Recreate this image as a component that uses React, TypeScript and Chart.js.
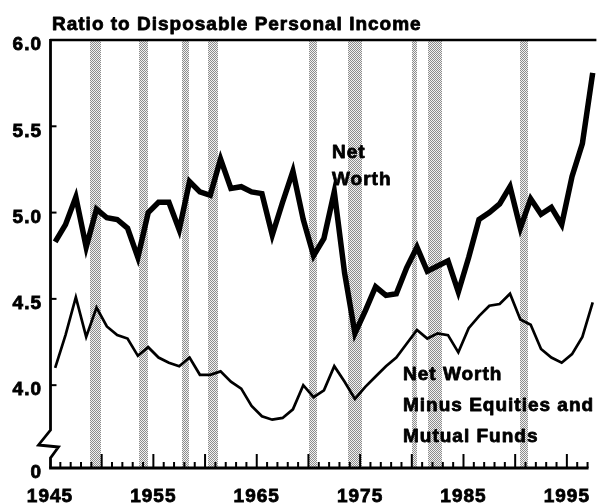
import React, { useEffect, useRef } from "react";
import { Chart, registerables } from "chart.js";

Chart.register(...registerables);

// ---------- data ----------
const years = [
  1945, 1946, 1947, 1948, 1949, 1950, 1951, 1952, 1953, 1954,
  1955, 1956, 1957, 1958, 1959, 1960, 1961, 1962, 1963, 1964,
  1965, 1966, 1967, 1968, 1969, 1970, 1971, 1972, 1973, 1974,
  1975, 1976, 1977, 1978, 1979, 1980, 1981, 1982, 1983, 1984,
  1985, 1986, 1987, 1988, 1989, 1990, 1991, 1992, 1993, 1994,
  1995, 1996, 1997,
];

const netWorth = [
  4.83, 4.93, 5.09, 4.8, 5.02, 4.97, 4.96, 4.91, 4.74, 5.0,
  5.06, 5.06, 4.9, 5.18, 5.12, 5.1, 5.31, 5.14, 5.15, 5.12,
  5.11, 4.87, 5.06, 5.24, 4.96, 4.75, 4.85, 5.12, 4.65, 4.3,
  4.43, 4.57, 4.52, 4.53, 4.68, 4.8, 4.66, 4.69, 4.72, 4.54,
  4.74, 4.96, 5.0, 5.05, 5.15, 4.91, 5.08, 4.99, 5.03, 4.93,
  5.21, 5.4, 5.81,
];

const netWorthMinusEquities = [
  4.1, 4.29, 4.51, 4.28, 4.45, 4.34, 4.29, 4.27, 4.17, 4.22,
  4.16, 4.13, 4.11, 4.16, 4.06, 4.06, 4.08, 4.02, 3.98, 3.88,
  3.82, 3.8, 3.81, 3.86, 4.0, 3.93, 3.97, 4.11, 4.02, 3.92,
  3.99, 4.05, 4.11, 4.16, 4.24, 4.32, 4.27, 4.3, 4.29, 4.19,
  4.33, 4.4, 4.46, 4.47, 4.53, 4.38, 4.35, 4.21, 4.16, 4.13,
  4.18, 4.28, 4.48,
];

const recessionStarts = [1948.9, 1953.65, 1957.75, 1960.3, 1970.05, 1973.85, 1980.05, 1981.55, 1990.5];
const recessionEnds = [1949.95, 1954.45, 1958.4, 1961.3, 1970.8, 1975.2, 1980.5, 1982.9, 1991.2];

const xTickLabels = [1945, 1955, 1965, 1975, 1985, 1995];
const yTickValues = [4.0, 4.5, 5.0, 5.5, 6.0];
const yBreakValue = 3.52; // broken-axis baseline, labelled "0"
const yTop = 6.0;
const xStart = 1945;
const xEnd = 1997.857;
const lastTickYear = 1997;

const titleText = "Ratio to Disposable Personal Income";
const netWorthLabel = ["Net", "Worth"];
const minusLabel = ["Net Worth", "Minus Equities and", "Mutual Funds"];

// ---------- styling ----------
const FONT = '"Liberation Sans", Arial, Helvetica, sans-serif';

function makeStipple(ctx: CanvasRenderingContext2D) {
  const c = document.createElement("canvas");
  c.width = 2;
  c.height = 2;
  const g = c.getContext("2d")!;
  g.fillStyle = "#f2f2f2";
  g.fillRect(0, 0, 2, 2);
  g.fillStyle = "#8c8c8c";
  g.fillRect(0, 0, 1, 1);
  g.fillRect(1, 1, 1, 1);
  return ctx.createPattern(c, "repeat");
}

const decorPlugin = {
  id: "decor",
  beforeDraw(chart: any) {
    (chart.ctx as any).letterSpacing = "1px";
  },
  beforeDatasetsDraw(chart: any) {
    const { ctx, chartArea: a, scales } = chart;
    const x = scales.x;
    ctx.save();
    const pat = makeStipple(ctx);
    ctx.fillStyle = pat || "#b8b8b8";
    recessionStarts.forEach((s, i) => {
      const x0 = Math.round(x.getPixelForValue(s));
      const x1 = Math.round(x.getPixelForValue(recessionEnds[i]));
      ctx.fillRect(x0, Math.round(a.top), x1 - x0, Math.round(a.bottom - a.top));
    });
    ctx.restore();
  },
  afterDatasetsDraw(chart: any) {
    const { ctx, chartArea: a, scales } = chart;
    const x = scales.x;
    const y = scales.y;
    ctx.save();
    ctx.strokeStyle = "#000";
    ctx.lineCap = "butt";
    ctx.lineJoin = "miter";

    // top border
    ctx.lineWidth = 2.5;
    ctx.beginPath();
    ctx.moveTo(a.left, a.top);
    ctx.lineTo(a.right, a.top);
    ctx.stroke();

    // y axis with break
    const ax = a.left + 0.5;
    const b = a.bottom;
    ctx.lineWidth = 2.8;
    ctx.beginPath();
    ctx.moveTo(ax, a.top - 1);
    ctx.lineTo(ax, b - 38);
    ctx.lineTo(ax - 12, b - 23);
    ctx.lineTo(ax + 8, b - 21);
    ctx.lineTo(ax, b - 10);
    ctx.lineTo(ax, b);
    ctx.stroke();

    // x axis baseline
    const xr = x.getPixelForValue(lastTickYear);
    ctx.lineWidth = 3;
    ctx.beginPath();
    ctx.moveTo(ax - 1.4, b);
    ctx.lineTo(xr + 1, b);
    ctx.stroke();

    // x ticks (inward)
    ctx.lineWidth = 2;
    for (let yr = xStart + 1; yr <= lastTickYear; yr++) {
      const px = x.getPixelForValue(yr);
      const h = yr % 5 === 0 ? 14 : 6;
      ctx.beginPath();
      ctx.moveTo(px, b);
      ctx.lineTo(px, b - h);
      ctx.stroke();
    }

    // y ticks (inward)
    yTickValues.forEach((v) => {
      const py = y.getPixelForValue(v);
      ctx.beginPath();
      ctx.moveTo(ax, py);
      ctx.lineTo(ax + 6, py);
      ctx.stroke();
    });
    ctx.restore();
  },
  afterDraw(chart: any) {
    const { ctx } = chart;
    ctx.save();
    ctx.fillStyle = "#000";
    ctx.strokeStyle = "#000";
    ctx.lineWidth = 0.8;
    ctx.lineJoin = "round";
    ctx.font = `bold 19px ${FONT}`;
    ctx.textAlign = "left";
    ctx.textBaseline = "alphabetic";
    const put = (t: string, px: number, py: number) => {
      ctx.fillText(t, px, py);
      ctx.strokeText(t, px, py);
    };
    put(titleText, 52, 30);
    netWorthLabel.forEach((t, i) => put(t, 332, 158 + i * 27));
    minusLabel.forEach((t, i) => put(t, 403, 380 + i * 31));
    ctx.restore();
    (ctx as any).letterSpacing = "0px";
  },
};

const tickFont = { family: FONT, size: 19, weight: "bold" as const };

export default function App() {
  const ref = useRef<HTMLCanvasElement | null>(null);

  useEffect(() => {
    if (!ref.current) return;
    const chart = new Chart(ref.current, {
      type: "line",
      data: {
        datasets: [
          {
            label: "Net Worth",
            data: years.map((yr, i) => ({ x: yr + 0.5, y: netWorth[i] })),
            borderColor: "#000",
            borderWidth: 5.5,
            pointRadius: 0,
            tension: 0,
            fill: false,
            borderJoinStyle: "miter",
          },
          {
            label: "Net Worth Minus Equities and Mutual Funds",
            data: years.map((yr, i) => ({ x: yr + 0.5, y: netWorthMinusEquities[i] })),
            borderColor: "#000",
            borderWidth: 2.7,
            pointRadius: 0,
            tension: 0,
            fill: false,
            borderJoinStyle: "miter",
          },
        ],
      },
      options: {
        responsive: false,
        animation: false,
        events: [],
        layout: { padding: { top: 40, left: 0, right: 0, bottom: 0 } },
        plugins: {
          legend: { display: false },
          tooltip: { enabled: false },
          title: { display: false },
        },
        scales: {
          x: {
            type: "linear",
            min: xStart,
            max: xEnd,
            afterFit: (s: any) => {
              s.height = 36;
            },
            afterBuildTicks: (s: any) => {
              s.ticks = xTickLabels.map((v) => ({ value: v }));
            },
            grid: { display: false, drawTicks: false },
            border: { display: false },
            ticks: {
              autoSkip: false,
              maxRotation: 0,
              padding: 17,
              color: "#000",
              textStrokeColor: "#000",
              textStrokeWidth: 0.8,
              font: tickFont,
              callback: (v: any) => String(v),
            },
          },
          y: {
            type: "linear",
            min: yBreakValue,
            max: yTop,
            afterFit: (s: any) => {
              s.width = 50;
            },
            afterBuildTicks: (s: any) => {
              s.ticks = [yBreakValue, ...yTickValues].map((v) => ({ value: v }));
            },
            grid: { display: false, drawTicks: false },
            border: { display: false },
            ticks: {
              padding: 8,
              labelOffset: 5,
              color: "#000",
              textStrokeColor: "#000",
              textStrokeWidth: 0.8,
              font: tickFont,
              callback: (v: any) => (Number(v) === yBreakValue ? "0" : Number(v).toFixed(1)),
            },
          },
        },
      },
      plugins: [decorPlugin],
    });
    return () => chart.destroy();
  }, []);

  return (
    <div
      style={{
        position: "fixed",
        left: 0,
        top: 0,
        width: 605,
        height: 504,
        background: "#fff",
      }}
    >
      <canvas ref={ref} width={605} height={504} style={{ display: "block" }} />
    </div>
  );
}
